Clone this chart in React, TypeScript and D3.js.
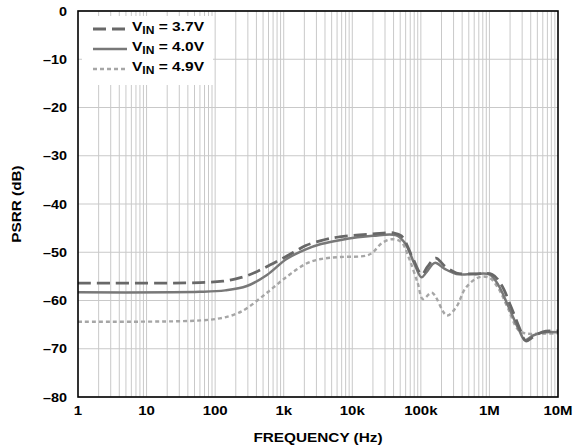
import React from "react";
import * as d3 from "d3";

const W = 574;
const H = 446;

const xTickValues = [1, 10, 100, 1e3, 1e4, 1e5, 1e6, 1e7];
const xTickLabels = ["1", "10", "100", "1k", "10k", "100k", "1M", "10M"];
const yTickValues = [0, -10, -20, -30, -40, -50, -60, -70, -80];
const yTickLabels = ["0", "–10", "–20", "–30", "–40", "–50", "–60", "–70", "–80"];

const seriesNames = ["3.7V", "4.0V", "4.9V"];

const freq37 = [1, 60, 130, 200, 300, 450, 870, 1400, 2100, 3500, 6500, 20000, 40000, 52000, 75000, 103000, 125000, 165000, 220000, 330000, 600000, 1100000, 1500000, 2050000, 2800000, 3400000, 4400000, 6000000, 10000000];
const psrr37 = [-56.4, -56.3, -56.0, -55.5, -54.8, -53.7, -51.6, -50.0, -48.6, -47.6, -46.8, -46.2, -46.0, -46.6, -51.0, -54.6, -53.0, -51.2, -52.8, -54.3, -54.5, -54.6, -56.8, -61.2, -66.0, -68.4, -67.5, -66.5, -66.3];

const freq40 = [1, 60, 140, 290, 570, 1100, 2100, 3500, 6500, 20000, 44000, 60000, 80000, 102000, 120000, 160000, 220000, 330000, 600000, 1000000, 1350000, 1900000, 2700000, 3300000, 4400000, 6400000, 10000000];
const psrr40 = [-58.3, -58.2, -57.9, -57.0, -54.7, -51.4, -49.4, -48.3, -47.5, -46.6, -46.5, -48.3, -52.3, -55.2, -54.2, -52.2, -53.4, -54.5, -54.5, -54.6, -56.8, -61.3, -66.1, -68.2, -67.2, -66.6, -66.6];

const freq49 = [1, 50, 117, 200, 290, 570, 1100, 2100, 3500, 6500, 16000, 20000, 27000, 38000, 52000, 67000, 90000, 107000, 145000, 240000, 330000, 450000, 700000, 1000000, 1350000, 1850000, 2600000, 3300000, 5000000, 10000000];
const psrr49 = [-64.4, -64.2, -63.7, -62.8, -61.6, -58.4, -55.1, -52.4, -51.4, -51.0, -50.7, -50.0, -48.1, -47.3, -47.9, -51.2, -56.4, -59.7, -58.4, -63.1, -61.3, -57.4, -55.2, -55.3, -57.5, -61.5, -66.0, -66.8, -66.9, -66.8];

const left = 78, right = 558, top = 11, bottom = 397;
const FONT = "'Liberation Sans', Arial, Helvetica, sans-serif";

function zip(f: number[], p: number[]): [number, number][] {
  return f.map((v, i) => [v, p[i]]);
}

function SText({ x, y, anchor, size, children, sx = 1.2, rotate = 0 }: any) {
  return (
    <g transform={`translate(${x},${y}) rotate(${rotate}) scale(${sx},1)`}>
      <text textAnchor={anchor} fontSize={size} fontWeight="bold" fontFamily={FONT} fill="#000">
        {children}
      </text>
    </g>
  );
}

export default function App() {
  const x = d3.scaleLog().domain([1, 1e7]).range([left, right]);
  const y = d3.scaleLinear().domain([-80, 0]).range([bottom, top]);

  const line = d3
    .line<[number, number]>()
    .x((d) => x(d[0]))
    .y((d) => y(d[1]))
    .curve(d3.curveCatmullRom.alpha(0.5));

  const minorX: number[] = [];
  for (let dec = 0; dec < 7; dec++) {
    for (let m = 1; m <= 9; m++) {
      const v = m * Math.pow(10, dec);
      if (v > 1 && v < 1e7) minorX.push(v);
    }
  }

  const styles = [
    { data: zip(freq49, psrr49), color: "#a6a6a6", width: 2.4, dash: "4,3" },
    { data: zip(freq40, psrr40), color: "#787878", width: 2.5, dash: "" },
    { data: zip(freq37, psrr37), color: "#686868", width: 2.8, dash: "13,6" },
  ];
  const legendStyles = [styles[2], styles[1], styles[0]];

  return (
    <svg width={W} height={H} style={{ position: "absolute", left: 0, top: 0, background: "#fff" }}>
      <defs>
        <clipPath id="plotclip">
          <rect x={left} y={top} width={right - left} height={bottom - top} />
        </clipPath>
      </defs>
      <rect x={0} y={0} width={W} height={H} fill="#fff" />
      {minorX.map((v, i) => (
        <line key={"gx" + i} x1={x(v)} x2={x(v)} y1={top} y2={bottom} stroke="#c9c9c9" strokeWidth={1} />
      ))}
      {yTickValues.map((v, i) => (
        <line key={"gy" + i} x1={left} x2={right} y1={y(v)} y2={y(v)} stroke="#c9c9c9" strokeWidth={1} />
      ))}
      <rect x={82} y={16} width={131} height={69} fill="#fff" />
      <g clipPath="url(#plotclip)">
        {styles.map((s, i) => (
          <path
            key={"s" + i}
            d={line(s.data) || ""}
            fill="none"
            stroke={s.color}
            strokeWidth={s.width}
            strokeDasharray={s.dash}
            strokeLinejoin="round"
          />
        ))}
      </g>
      <rect x={left} y={top} width={right - left} height={bottom - top} fill="none" stroke="#000" strokeWidth={1.6} />
      {legendStyles.map((s, i) => {
        const ly = 29 + i * 20;
        return (
          <g key={"lg" + i}>
            <line x1={93} x2={127} y1={ly} y2={ly} stroke={s.color} strokeWidth={s.width} strokeDasharray={s.dash} />
            <g transform={`translate(132,${ly + 2}) scale(1.15,1)`}>
              <text fontSize={13.5} fontWeight="bold" fontFamily={FONT} fill="#000">
                V
                <tspan fontSize={10.5} dy={3}>IN</tspan>
                <tspan dy={-3}>{" = " + seriesNames[i]}</tspan>
              </text>
            </g>
          </g>
        );
      })}
      {yTickValues.map((v, i) => (
        <SText key={"yl" + i} x={67} y={y(v) + 4.5} anchor="end" size={12} sx={1.2}>
          {yTickLabels[i]}
        </SText>
      ))}
      {xTickValues.map((v, i) => (
        <SText key={"xl" + i} x={x(v)} y={414.5} anchor="middle" size={12} sx={1.25}>
          {xTickLabels[i]}
        </SText>
      ))}
      <SText x={(left + right) / 2} y={442} anchor="middle" size={13} sx={1.18}>
        FREQUENCY (Hz)
      </SText>
      <SText x={21} y={(top + bottom) / 2} anchor="middle" size={13} sx={1.18} rotate={-90}>
        PSRR (dB)
      </SText>
    </svg>
  );
}
